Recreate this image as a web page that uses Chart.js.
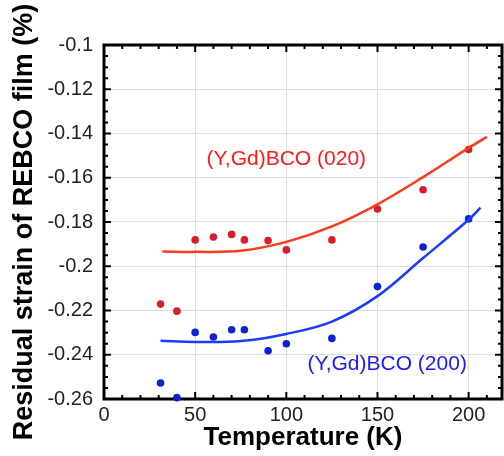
<!DOCTYPE html>
<html>
<head>
<meta charset="utf-8">
<script src="https://cdn.jsdelivr.net/npm/chart.js@4.4.1/dist/chart.umd.min.js"></script>
<style>
html,body{margin:0;padding:0;background:#fff;overflow:hidden;}
#wrap{width:504px;height:456px;overflow:hidden;}
</style>
</head>
<body>
<div id="wrap"><canvas id="myChart" width="506" height="456"></canvas></div>
<script>
// measured points (temperature in K, strain in %)
var temps=[31,40,50,60,70,77,90,100,125,150,175,200];
var strain020=[-0.2171,-0.2203,-0.1881,-0.1868,-0.1856,-0.1881,-0.1884,-0.1926,-0.1881,-0.1741,-0.1654,-0.1472];
var strain200=[-0.2528,-0.2594,-0.2299,-0.2320,-0.2287,-0.2287,-0.2382,-0.2350,-0.2326,-0.2092,-0.1913,-0.1786];

// fitted curves
var fitT020=[32,50,75,100,125,150,175,200,210];
var fit020=[-0.1933,-0.1935,-0.1930,-0.1890,-0.1820,-0.1720,-0.1597,-0.1465,-0.1415];
var fitT200=[31,50,75,100,125,150,175,200,206.5];
var fit200=[-0.2337,-0.2342,-0.2338,-0.2306,-0.2250,-0.2135,-0.1963,-0.1790,-0.1735];

var xTicks=[0,50,100,150,200];
var yTicks=[-0.26,-0.24,-0.22,-0.2,-0.18,-0.16,-0.14,-0.12,-0.1];

var labels=['(Y,Gd)BCO (020)','(Y,Gd)BCO (200)'];
var labelT=[100,155.3];
var labelS=[-0.1514,-0.2444];
var labelColors=['#ff1a1a','#1a1aff'];

function pts(xs,ys){
	var out=[];
	xs.forEach(function(x,i){ out.push({x:x,y:ys[i]}); });
	return out;
}

var FONT='"Liberation Sans", Arial, sans-serif';

var framePlugin={
	id:'frame',
	beforeDatasetsDraw:function(chart){
		var ctx=chart.ctx, a=chart.chartArea, xs=chart.scales.x, ys=chart.scales.y;
		ctx.save();
		ctx.strokeStyle='#000';
		ctx.lineWidth=2;
		ctx.beginPath();
		for(var i=0;i*10<=xs.max;i++){
			var px=xs.getPixelForValue(i*10);
			var len=(i%5===0)?7:4;
			ctx.moveTo(px,a.bottom);ctx.lineTo(px,a.bottom-len);
			ctx.moveTo(px,a.top);ctx.lineTo(px,a.top+len);
		}
		for(var j=0;j<=32;j++){
			var py=ys.getPixelForValue(-0.26+j*0.005);
			var l2=(j%4===0)?7:4;
			ctx.moveTo(a.left,py);ctx.lineTo(a.left+l2,py);
			ctx.moveTo(a.right,py);ctx.lineTo(a.right-l2,py);
		}
		ctx.stroke();
		ctx.lineWidth=3;
		ctx.strokeRect(a.left,a.top,a.right-a.left,a.bottom-a.top);
		ctx.restore();
	},
	afterDatasetsDraw:function(chart){
		var ctx=chart.ctx, xs=chart.scales.x, ys=chart.scales.y;
		ctx.save();
		ctx.font='21px '+FONT;
		ctx.textAlign='center';
		ctx.textBaseline='middle';
		labels.forEach(function(t,i){
			ctx.fillStyle=labelColors[i];
			ctx.fillText(t,xs.getPixelForValue(labelT[i]),ys.getPixelForValue(labelS[i]));
		});
		ctx.restore();
	}
};

var ctx=document.getElementById('myChart').getContext('2d');
var myChart=new Chart(ctx,{
	type:'scatter',
	data:{
		datasets:[
			{data:pts(fitT020,fit020),showLine:true,borderColor:'#ff3a1a',borderWidth:2.5,pointRadius:0,tension:0.35,fill:false},
			{data:pts(fitT200,fit200),showLine:true,borderColor:'#1a3cff',borderWidth:2.5,pointRadius:0,tension:0.35,fill:false},
			{data:pts(temps,strain020),pointRadius:3.8,pointBackgroundColor:'#d81e2a',pointBorderWidth:0,clip:false},
			{data:pts(temps,strain200),pointRadius:3.8,pointBackgroundColor:'#0a22d0',pointBorderWidth:0,clip:false}
		]
	},
	options:{
		responsive:false,
		animation:false,
		devicePixelRatio:1,
		layout:{padding:{left:0,top:45,right:1,bottom:0}},
		plugins:{legend:{display:false},tooltip:{enabled:false}},
		scales:{
			x:{
				type:'linear',min:0,max:218.3,
				afterBuildTicks:function(s){ s.ticks=xTicks.map(function(v){return {value:v};}); },
				afterFit:function(s){ s.height=57; },
				ticks:{font:{family:FONT,size:20},color:'#222',padding:4},
				grid:{color:'#dddddd',lineWidth:1,drawTicks:false},
				border:{display:false},
				title:{display:true,text:'Temperature (K)',color:'#000',font:{family:FONT,size:26,weight:'bold'},padding:{top:0,bottom:3}}
			},
			y:{
				type:'linear',min:-0.26,max:-0.1,
				afterBuildTicks:function(s){ s.ticks=yTicks.map(function(v){return {value:v};}); },
				afterFit:function(s){ s.width=104; },
				ticks:{font:{family:FONT,size:20},color:'#222',padding:11,callback:function(v){return String(Number(v.toFixed(3)));}},
				grid:{color:'#dddddd',lineWidth:1,drawTicks:false},
				border:{display:false},
				title:{display:true,text:'Residual strain of REBCO film (%)',color:'#000',font:{family:FONT,size:27,weight:'bold'},padding:{top:8,bottom:0}}
			}
		}
	},
	plugins:[framePlugin]
});
</script>
</body>
</html>
